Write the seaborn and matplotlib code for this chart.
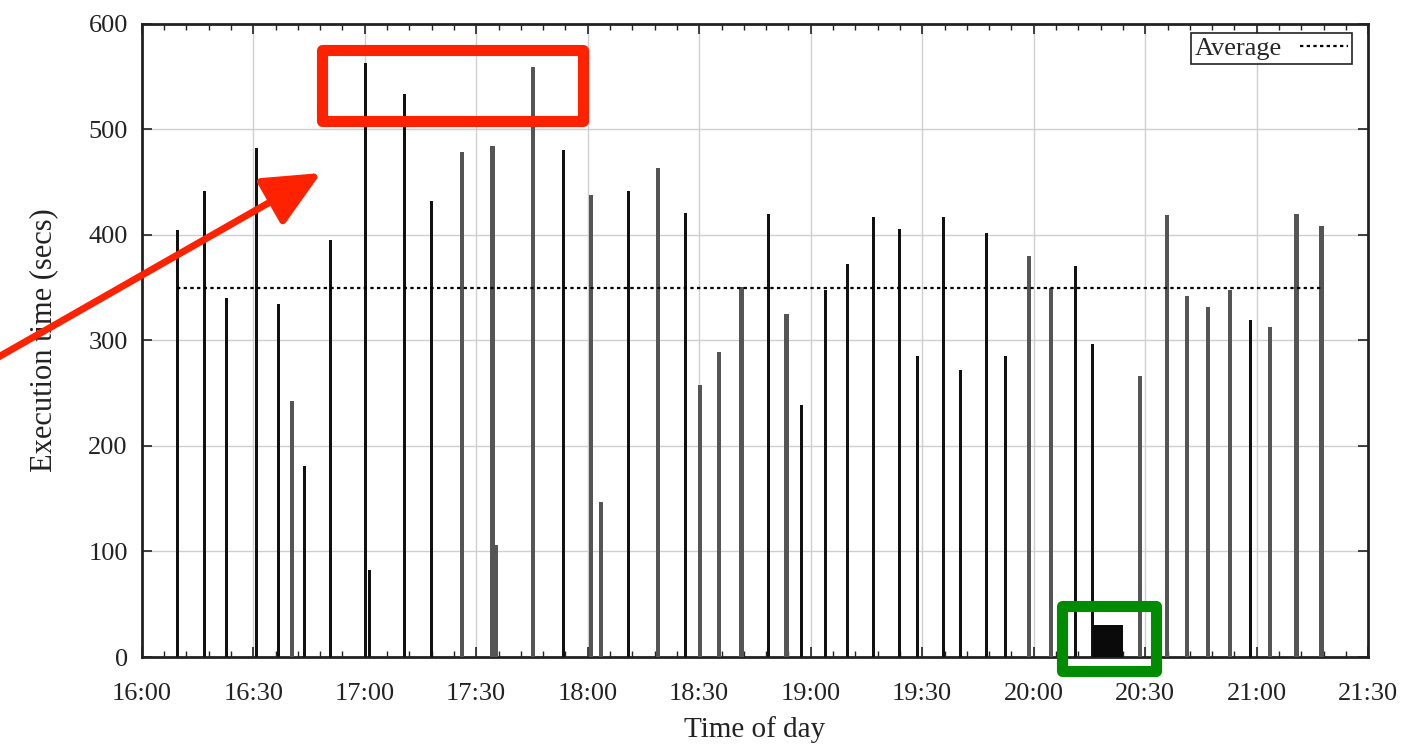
import numpy as np
import pandas as pd
import seaborn as sns
import matplotlib.pyplot as plt
from matplotlib.patches import Rectangle
from matplotlib.ticker import MultipleLocator

# job start, minutes after 16:00
minutes = [9.6, 16.8, 22.7, 30.9, 36.7, 40.4, 43.8, 50.8, 60.3, 61.2,
           70.8, 77.9, 86.2, 94.4, 95.2, 105.2, 113.4, 120.8, 123.6, 130.9,
           139.0, 146.3, 150.2, 155.3, 161.4, 168.6, 173.5, 177.6, 184.0, 189.9,
           196.8, 203.8, 208.8, 215.6, 220.4, 227.3, 232.3, 238.8, 244.6, 251.2,
           255.8, 260.0, 268.6, 275.8, 281.3, 286.8, 292.8, 298.2, 303.5, 310.7,
           317.4]
# execution time (secs)
secs = [405, 442, 340, 482, 335, 243, 181, 395, 563, 82,
        534, 432, 479, 484, 106, 559, 480, 438, 147, 442,
        463, 421, 258, 289, 351, 420, 325, 239, 348, 372,
        417, 406, 285, 417, 272, 402, 285, 380, 350, 371,
        297, 30, 266, 419, 342, 332, 348, 319, 313, 420,
        408]
# which run the job belongs to
run = ['a', 'a', 'a', 'a', 'a', 'b', 'a', 'a', 'a', 'a',
       'a', 'a', 'b', 'b', 'b', 'b', 'a', 'b', 'b', 'a',
       'b', 'a', 'b', 'b', 'b', 'a', 'b', 'a', 'a', 'a',
       'a', 'a', 'a', 'a', 'a', 'a', 'a', 'b', 'b', 'a',
       'a', 'c', 'b', 'b', 'b', 'b', 'b', 'a', 'b', 'b',
       'b']
average = 350

x_ticks = list(range(0, 331, 30))
x_labels = ['16:00', '16:30', '17:00', '17:30', '18:00', '18:30',
            '19:00', '19:30', '20:00', '20:30', '21:00', '21:30']

df = pd.DataFrame({'minutes': minutes, 'secs': secs, 'run': run})

sns.set_theme(style='ticks')
plt.rcParams['font.family'] = ['Liberation Serif', 'DejaVu Serif']

fig = plt.figure(figsize=(14.03, 7.46), dpi=100)
ax = fig.add_axes([0.101, 0.1193, 0.8742, 0.8487])

look = {'a': ('#111111', 0.8), 'b': ('#555555', 1.15), 'c': ('#0a0a0a', 8.3)}
for r, grp in df.groupby('run'):
    col, w = look[r]
    ax.bar(grp['minutes'], grp['secs'], width=w, color=col, linewidth=0, zorder=3)

avg_df = pd.DataFrame({'minutes': [minutes[0], minutes[-1]], 'secs': [average, average]})
sns.lineplot(data=avg_df, x='minutes', y='secs', ax=ax, color='black', lw=1.6,
             linestyle=(0, (1.5, 1.5)), label='Average', zorder=4)

ax.set_xlim(0, 330)
ax.set_ylim(0, 600)
ax.set_xticks(x_ticks)
ax.set_xticklabels(x_labels)
ax.set_yticks(range(0, 601, 100))
ax.xaxis.set_minor_locator(MultipleLocator(6))
ax.grid(True, which='major', color='#cfcfcf', lw=1, zorder=0)
ax.tick_params(which='both', direction='in', top=True, right=True,
               labelsize=19, colors='#222222', pad=10)
ax.tick_params(axis='x', which='major', pad=19)
ax.tick_params(which='major', length=7, width=1.2)
ax.tick_params(which='minor', length=4, width=1)
for s in ax.spines.values():
    s.set_linewidth(2)
    s.set_color('#222222')

ax.set_xlabel('Time of day', fontsize=21, color='#222222', labelpad=8)
ax.set_ylabel('Execution time (secs)', fontsize=22, color='#222222', labelpad=22)

leg = ax.legend(loc='upper right', markerfirst=False, fancybox=False, fontsize=19,
                edgecolor='#222222', framealpha=1, handlelength=1.8, handletextpad=0.7,
                borderpad=0.15, borderaxespad=0, bbox_to_anchor=(0.9867, 0.9858))
leg.get_frame().set_linewidth(1.2)

# highlight boxes and arrow
ax.add_patch(Rectangle((48.4, 507.6), 70.2, 67.4, fill=False, ec='#ff2200', lw=8,
                       joinstyle='round', zorder=6))
ax.add_patch(Rectangle((247.7, -13.7), 25.3, 62.5, fill=False, ec='#008c00', lw=8,
                       joinstyle='round', zorder=6, clip_on=False))
ax.annotate('', xy=(321, 573), xycoords='figure pixels', xytext=(-5, 387),
            textcoords='figure pixels',
            arrowprops=dict(arrowstyle='-|>,head_length=1.4,head_width=0.65',
                            mutation_scale=25, color='#ff2200', lw=5, shrinkA=0, shrinkB=0))

fig.savefig('out.png', dpi=100)
